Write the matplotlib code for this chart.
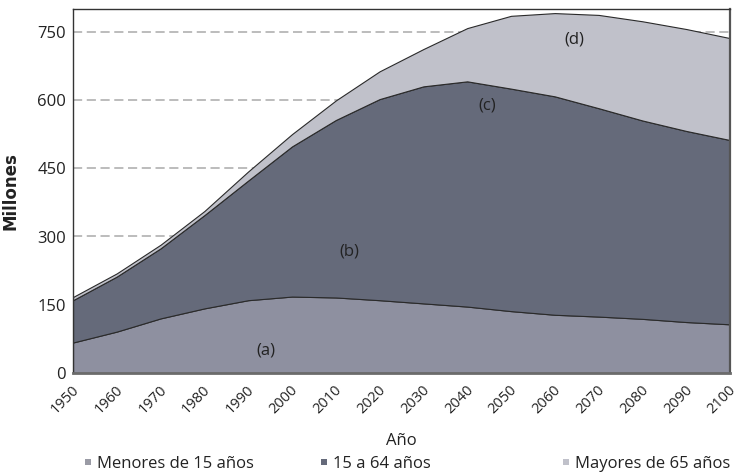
import matplotlib
matplotlib.use("Agg")
import matplotlib.pyplot as plt
import matplotlib.transforms as mtransforms
from matplotlib.lines import Line2D
import numpy as np

# datos (millones)
anios = [1950, 1960, 1970, 1980, 1990, 2000, 2010, 2020, 2030, 2040, 2050, 2060, 2070, 2080, 2090, 2100]
menores_15 = [67, 91, 120, 142, 160, 168, 166, 160, 153, 146, 136, 128, 124, 119, 112, 107]
de_15_a_64 = [93, 121, 154, 205, 263, 330, 390, 442, 477, 495, 489, 480, 458, 436, 420, 405]
mayores_65 = [7, 7, 8, 9, 20, 27, 43, 61, 82, 117, 160, 183, 205, 218, 224, 224]

etiquetas = ["Menores de 15 años", "15 a 64 años", "Mayores de 65 años"]
colores = ["#8e90a0", "#656a7a", "#c0c1ca"]
ticks_y = [0, 150, 300, 450, 600, 750]

# letras dentro de las areas: (texto, anio, valor)
marcas = [("(a)", 1994, 50), ("(b)", 2013, 266), ("(c)", 2044.5, 589), ("(d)", 2064.5, 732)]

plt.rcParams['font.family'] = ['Open Sans', 'DejaVu Sans']

fig = plt.figure(figsize=(7.42, 4.73), dpi=100)
ax = fig.add_axes([73/742, 1 - 373/473, 657/742, 364/473])

ax.stackplot(anios, menores_15, de_15_a_64, mayores_65, colors=colores,
             edgecolor="#2a2a2a", linewidth=0.8)

ax.set_xlim(1950, 2100)
ax.set_ylim(0, 800)
ax.set_yticks(ticks_y)
ax.set_xticks(anios)
ax.yaxis.grid(True, linestyle=(0, (6, 3)), color="#aaaaaa", linewidth=1.1)
ax.set_axisbelow(True)

ax.tick_params(axis="both", length=0, colors="#222222")
ax.tick_params(axis="y", labelsize=12, pad=5)
ax.tick_params(axis="x", labelsize=10.5, pad=7)
desplaz = mtransforms.ScaledTranslation(-8/100, 0, fig.dpi_scale_trans)
for lab in ax.get_xticklabels():
    lab.set_rotation(45)
    lab.set_ha("center")
    lab.set_va("top")
    lab.set_transform(lab.get_transform() + desplaz)

for lado in ["left", "top"]:
    ax.spines[lado].set_color("#333333")
    ax.spines[lado].set_linewidth(1.0)
ax.spines["bottom"].set_color("#6b6b6b")
ax.spines["bottom"].set_linewidth(2.0)
ax.spines["right"].set_color("#555555")
ax.spines["right"].set_linewidth(1.6)

ax.set_xlabel("Año", fontsize=12, color="#222222")
ax.xaxis.set_label_coords(0.5, -0.165)
ax.set_ylabel("Millones", fontsize=12, fontweight="bold", color="#222222", family="DejaVu Sans")
ax.yaxis.set_label_coords(-0.081, 0.5)

for texto, x, y in marcas:
    ax.text(x, y, texto, fontsize=12, color="#222222", ha="center", va="center")

# leyenda: tres entradas separadas como en el original
pos_x = [76/742, 312/742, 554/742]
for etiqueta, color, x in zip(etiquetas, colores, pos_x):
    h = Line2D([], [], linestyle="none", marker="s", markersize=4.2,
               markerfacecolor="#9a9ba5" if color == colores[0] else color,
               markeredgewidth=0)
    fig.legend([h], [etiqueta], loc="center left", bbox_to_anchor=(x, 1 - 464/473),
               frameon=False, borderpad=0, handlelength=0.45, handletextpad=0.3,
               fontsize=12, labelcolor="#222222")

fig.savefig("out.png", dpi=100)
